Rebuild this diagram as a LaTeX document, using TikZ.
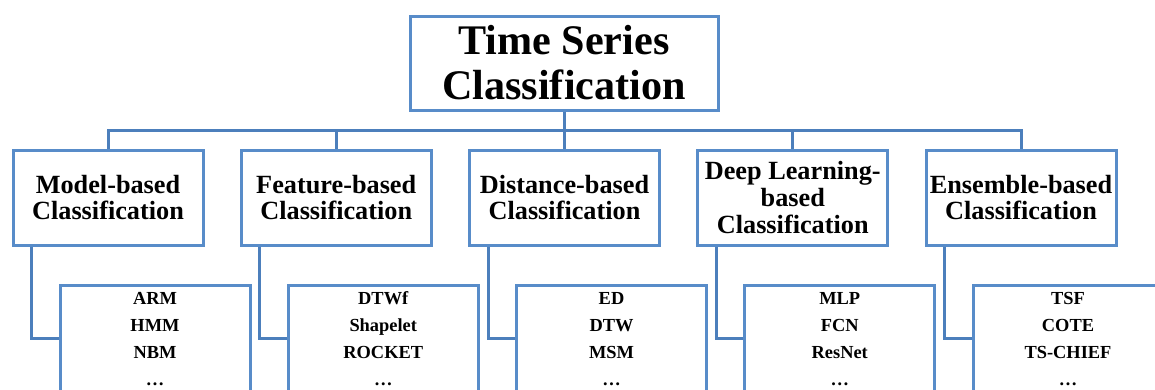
\documentclass[tikz,border=0pt]{standalone}
\usepackage{fontspec}
\setmainfont{Liberation Serif}
\usetikzlibrary{calc}
\definecolor{boxblue}{RGB}{88,140,201}
\definecolor{lineblue}{RGB}{76,127,188}
\tikzset{
  titlebox/.style={draw=boxblue, line width=2.25pt, fill=white, align=center, inner sep=0pt,
    minimum width=231pt, minimum height=70.5pt,
    font=\fontsize{31.6}{33.75}\selectfont\bfseries},
  catbox/.style={draw=boxblue, line width=2.25pt, fill=white, align=center, inner sep=0pt,
    minimum width=142.5pt, minimum height=71.25pt,
    font=\fontsize{19.7}{20}\selectfont\bfseries},
  listbox/.style={draw=boxblue, line width=2.25pt, fill=white, inner sep=0pt,
    minimum width=142.5pt, minimum height=102pt, anchor=north},
  listtext/.style={text width=140pt, align=center, inner sep=0pt, anchor=base,
    font=\fontsize{13.8}{20.25}\selectfont\bfseries},
  conn/.style={draw=lineblue, line width=2.25pt},
}
\begin{document}
\begin{tikzpicture}[x=0.75pt, y=-0.75pt]
\clip (0,0) rectangle (1155,389);
\fill[white] (0,0) rectangle (1155,389);
\coordinate (bar) at (0,130);

\node[titlebox] (title) at (564,63) {Time Series\\Classification};

\node[catbox] (m1) at (108,197.5) {Model-based\\Classification};
\node[catbox] (m2) at (336.25,197.5) {Feature-based\\Classification};
\node[catbox] (m3) at (564.5,197.5) {Distance-based\\Classification};
\node[catbox] (m4) at (792.75,197.5) {Deep Learning-\\based\\Classification};
\node[catbox] (m5) at (1021,197.5) {Ensemble-based\\Classification};

\foreach \i/\cx in {1/108, 2/336.25, 3/564.5, 4/792.75, 5/1021} {
  \node[listbox] (s\i) at (\cx+47,284) {};
}
\node[listtext] (t1) at ($(s1.north)+(0,20)$) {ARM\\HMM\\NBM\\\dots};
\node[listtext] (t2) at ($(s2.north)+(0,20)$) {DTWf\\Shapelet\\ROCKET\\\dots};
\node[listtext] (t3) at ($(s3.north)+(0,20)$) {ED\\DTW\\MSM\\\dots};
\node[listtext] (t4) at ($(s4.north)+(0,20)$) {MLP\\FCN\\ResNet\\\dots};
\node[listtext] (t5) at ($(s5.north)+(0,20)$) {TSF\\COTE\\TS-CHIEF\\\dots};

% tree connectors
\draw[conn] (title.south) -- (title.south |- bar);
\draw[conn] (m1.north) -- (m1.north |- bar) -- (m5.north |- bar) -- (m5.north);
\draw[conn] (m2.north) -- (m2.north |- bar);
\draw[conn] (m3.north) -- (m3.north |- bar);
\draw[conn] (m4.north) -- (m4.north |- bar);

% side connectors
\foreach \i in {1,...,5} {
  \draw[conn] ([xshift=15pt]m\i.south west) |- ($(s\i.north west)+(0,54)$);
}
\end{tikzpicture}
\end{document}
